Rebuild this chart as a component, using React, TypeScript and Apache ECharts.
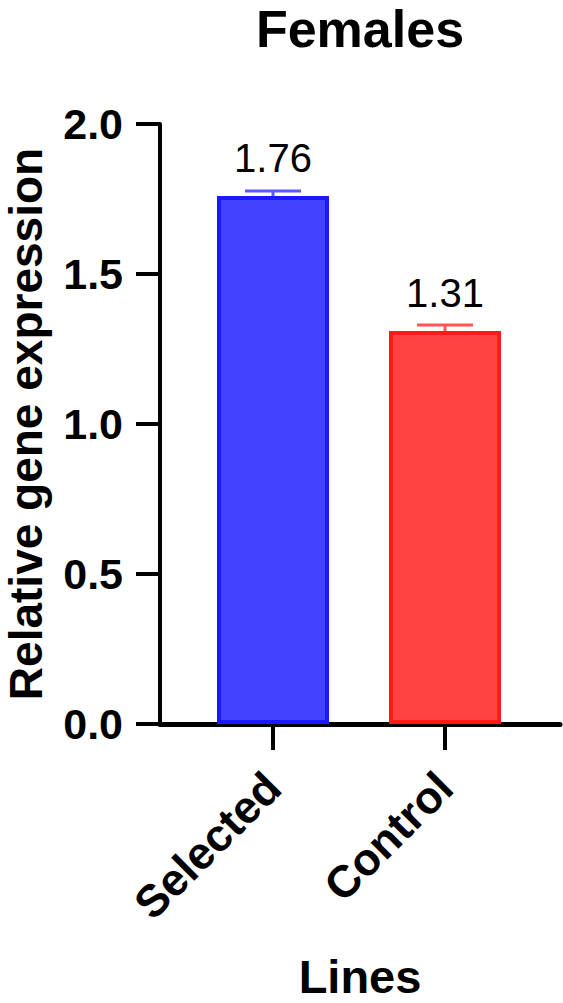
import React, { useEffect, useRef } from "react";
import * as echarts from "echarts";

const titleText = "Females";
const categories = ["Selected", "Control"];
const means = [1.76, 1.31];
const errors = [0.017, 0.02];
const fillColors = ["#4343FF", "#FF4343"];
const borderColors = ["#1A1AFF", "#FF1A1A"];
const errorColors = ["#5A5AFF", "#FF5555"];
const yTicks = [0, 0.5, 1.0, 1.5, 2.0];
const yName = "Relative gene expression";
const xName = "Lines";

const FONT = "'Liberation Sans', Arial, Helvetica, sans-serif";

export default function App() {
  const ref = useRef<HTMLDivElement>(null);
  useEffect(() => {
    if (!ref.current) return;
    const chart = echarts.init(ref.current, undefined, { renderer: "svg" });
    const top = 124;
    const bottom = 279;
    chart.setOption({
      animation: false,
      backgroundColor: "#ffffff",
      title: {
        text: titleText,
        left: 360,
        top: 3,
        padding: 0,
        textAlign: "center",
        textStyle: { fontFamily: FONT, fontWeight: "bold", fontSize: 52, lineHeight: 52, color: "#000" },
      },
      grid: [
        { left: 187, right: 32, top, bottom, containLabel: false, outerBoundsMode: "none" },
        { left: 160, right: 3, top, bottom, containLabel: false, outerBoundsMode: "none" },
      ],
      xAxis: [
        {
          type: "category",
          gridIndex: 0,
          data: categories,
          boundaryGap: true,
          axisLine: { show: false },
          axisTick: { show: true, length: 26, alignWithLabel: true, lineStyle: { color: "#000", width: 4 } },
          axisLabel: {
            rotate: 45,
            margin: 56,
            fontFamily: FONT,
            fontWeight: "bold",
            fontSize: 45,
            color: "#000",
          },
        },
        {
          type: "value",
          gridIndex: 1,
          min: 0,
          max: 1,
          axisLine: { show: true, lineStyle: { color: "#000", width: 5 } },
          axisTick: { show: false },
          axisLabel: { show: false },
          splitLine: { show: false },
          name: xName,
          nameLocation: "middle",
          nameGap: 229,
          nameTextStyle: { fontFamily: FONT, fontWeight: "bold", fontSize: 47, color: "#000" },
        },
      ],
      yAxis: [
        {
          type: "value",
          gridIndex: 0,
          min: 0,
          max: 2,
          interval: 0.5,
          show: false,
        },
        {
          type: "value",
          gridIndex: 1,
          min: 0,
          max: 2,
          interval: 0.5,
          axisLine: { show: true, lineStyle: { color: "#000", width: 4 } },
          axisTick: { show: true, length: 24, lineStyle: { color: "#000", width: 4 } },
          splitLine: { show: false },
          axisLabel: {
            margin: 37,
            fontFamily: FONT,
            fontWeight: "bold",
            fontSize: 43,
            color: "#000",
            formatter: (v: number) => v.toFixed(1),
          },
          name: yName,
          nameLocation: "middle",
          nameGap: 111,
          nameTextStyle: { fontFamily: FONT, fontWeight: "bold", fontSize: 46, lineHeight: 46, color: "#000" },
        },
      ],
      series: [
        {
          type: "bar",
          xAxisIndex: 0,
          yAxisIndex: 0,
          barWidth: 112,
          data: means.map((v, i) => ({
            value: v,
            itemStyle: { color: fillColors[i], borderColor: borderColors[i], borderWidth: 4 },
          })),
          label: {
            show: true,
            position: "top",
            distance: 18,
            fontFamily: FONT,
            fontSize: 40,
            color: "#000",
            formatter: (p: any) => means[p.dataIndex].toFixed(2),
          },
          z: 2,
        },
        {
          type: "custom",
          xAxisIndex: 0,
          yAxisIndex: 0,
          data: means.map((v, i) => [i, v, errors[i]]),
          renderItem: (params: any, api: any) => {
            const i = api.value(0);
            const v = api.value(1);
            const e = api.value(2);
            const base = api.coord([i, v]);
            const tp = api.coord([i, v + e]);
            const half = 28;
            const stroke = errorColors[params.dataIndex];
            return {
              type: "group",
              children: [
                { type: "line", shape: { x1: base[0], y1: base[1], x2: tp[0], y2: tp[1] }, style: { stroke, lineWidth: 3 } },
                { type: "line", shape: { x1: tp[0] - half, y1: tp[1], x2: tp[0] + half, y2: tp[1] }, style: { stroke, lineWidth: 3 } },
              ],
            };
          },
          z: 3,
        },
      ],
    });
    return () => chart.dispose();
  }, []);
  return (
    <div
      ref={ref}
      style={{ position: "absolute", left: 0, top: 0, width: 563, height: 1003 }}
    />
  );
}
